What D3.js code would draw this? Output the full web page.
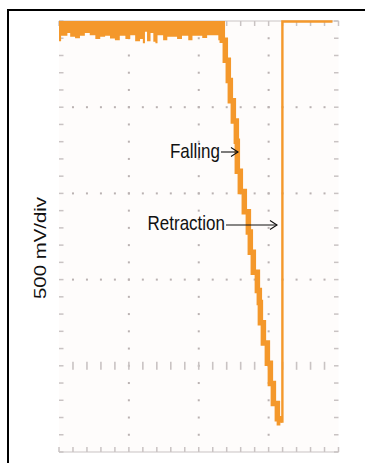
<!DOCTYPE html>
<html>
<head>
<meta charset="utf-8">
<script src="https://cdn.jsdelivr.net/npm/d3@7"></script>
<style>
  html, body { margin: 0; padding: 0; background: #ffffff; }
  svg { display: block; }
  text { font-family: "Liberation Sans", Arial, sans-serif; fill: #111; }
</style>
</head>
<body>
<svg id="scope" width="365" height="463"></svg>
<script>
// Time axis in divisions, voltage in volts (500 mV/div)
const timeDivs = [0, 1, 2, 3, 4];
const voltDivs = [-0.5, 0, 0.5, 1.0, 1.5, 2.0];
const yLabel = "500 mV/div";

// Saturated, noisy segment before the fall: lower edge of the noise band
const noiseTime = [0.00, 0.03, 0.12, 0.16, 0.23, 0.30, 0.37, 0.44, 0.52, 0.59, 0.66, 0.73, 0.80, 0.87, 0.95, 1.02, 1.09, 1.16, 1.20, 1.23, 1.26, 1.31, 1.35, 1.38, 1.41, 1.49, 1.55, 1.69, 1.76, 1.85, 1.91, 2.05, 2.12, 2.28, 2.34];
const noiseLow  = [1.883, 1.914, 1.930, 1.908, 1.900, 1.914, 1.930, 1.918, 1.895, 1.908, 1.914, 1.899, 1.889, 1.914, 1.895, 1.918, 1.883, 1.895, 1.871, 1.937, 1.883, 1.930, 1.879, 1.871, 1.918, 1.889, 1.908, 1.895, 1.914, 1.889, 1.914, 1.902, 1.918, 1.889, 1.889];

// Falling edge (staircase from the digitiser)
const fallTime = [2.337, 2.380, 2.423, 2.452, 2.495, 2.538, 2.552, 2.595, 2.652, 2.710, 2.738, 2.781, 2.839, 2.867, 2.882, 2.925, 2.982, 3.025, 3.068, 3.125, 3.154, 3.168];
const fallVolt = [2.000, 1.889, 1.772, 1.655, 1.537, 1.420, 1.303, 1.128, 1.011, 0.893, 0.776, 0.659, 0.542, 0.437, 0.367, 0.249, 0.132, 0.015, -0.102, -0.219, -0.307, -0.330];

// Retraction: sharp return to the top rail, then flat
const retractTime = [3.197, 3.197, 3.914];
const retractVolt = [-0.330, 1.997, 1.997];

const svg = d3.select("#scope");
const x = d3.scaleLinear().domain([0, 4]).range([59, 338.5]);
const y = d3.scaleLinear().domain([-0.5, 2.0]).range([452, 21]);

const gridCol = "#c9c3c3";
const dotCol = "#bab2b2";
const trace = "#f4982b";

svg.append("rect").attr("width", 365).attr("height", 463).attr("fill", "#ffffff");
svg.append("rect")
  .attr("x", x(0)).attr("y", y(2.0))
  .attr("width", x(4) - x(0)).attr("height", y(-0.5) - y(2.0))
  .attr("fill", "#fefcfb");

const grid = svg.append("g");
const minorT = d3.range(0, 4.0001, 0.2);
const minorV = d3.range(-0.5, 2.0001, 0.1);

// top and bottom rails with inward ticks
[[2.0, 1], [-0.5, -1]].forEach(([v, dir]) => {
  grid.append("line")
    .attr("x1", x(0)).attr("x2", x(4)).attr("y1", y(v)).attr("y2", y(v))
    .attr("stroke", gridCol).attr("stroke-width", 1);
  grid.selectAll(null).data(minorT).join("line")
    .attr("x1", d => x(d)).attr("x2", d => x(d))
    .attr("y1", y(v)).attr("y2", y(v) + dir * 5)
    .attr("stroke", gridCol).attr("stroke-width", 1.5);
});

// left and right edge ticks
[[0, 1], [4, -1]].forEach(([t, dir]) => {
  grid.selectAll(null).data(minorV).join("line")
    .attr("x1", x(t)).attr("x2", x(t) + dir * 4.5)
    .attr("y1", d => y(d)).attr("y2", d => y(d))
    .attr("stroke", gridCol).attr("stroke-width", 1.5);
});

// dotted interior verticals
timeDivs.filter(t => t > 0 && t < 4).forEach(t => {
  grid.selectAll(null).data(minorV.filter(v => v > -0.45 && v < 1.95)).join("rect")
    .attr("x", x(t) - 1).attr("y", d => y(d) - 1)
    .attr("width", 2).attr("height", 2).attr("fill", dotCol);
});

// dotted interior horizontals
voltDivs.filter(v => v > -0.5 && v < 2.0 && v !== 0).forEach(v => {
  grid.selectAll(null).data(minorT.filter(t => t > 0.1 && t < 3.9)).join("rect")
    .attr("x", d => x(d) - 1).attr("y", y(v) - 1)
    .attr("width", 2).attr("height", 2).attr("fill", dotCol);
});

// centre axis: tick marks across the line
grid.selectAll(null).data(minorT.filter(t => t > 0.1 && t < 3.9)).join("line")
  .attr("x1", d => x(d)).attr("x2", d => x(d))
  .attr("y1", y(0) - 4).attr("y2", y(0) + 4)
  .attr("stroke", gridCol).attr("stroke-width", 1.6);

// trace
const band = noiseTime.map((t, i) => ({ t, lo: noiseLow[i] }));
svg.append("path")
  .datum(band)
  .attr("fill", trace)
  .attr("d", d3.area().curve(d3.curveStepAfter)
    .x(d => x(d.t)).y0(d => y(d.lo)).y1(y(2.0)));

const fall = fallTime.map((t, i) => ({ t, v: fallVolt[i] }));
svg.append("path")
  .datum(fall)
  .attr("fill", "none").attr("stroke", trace).attr("stroke-width", 5.5)
  .attr("stroke-linejoin", "miter")
  .attr("d", d3.line().curve(d3.curveStepBefore).x(d => x(d.t)).y(d => y(d.v)));

const retract = retractTime.map((t, i) => ({ t, v: retractVolt[i] }));
svg.append("path")
  .datum(retract)
  .attr("fill", "none").attr("stroke", trace).attr("stroke-width", 2.4)
  .attr("d", d3.line().x(d => x(d.t)).y(d => y(d.v)));

// annotations
function label(txt, px, py, anchor) {
  svg.append("text")
    .attr("transform", `translate(${px},${py}) scale(1,1.2)`)
    .attr("text-anchor", anchor)
    .attr("font-size", 17)
    .text(txt);
}
function arrow(x1, x2, yy) {
  const g = svg.append("g").attr("stroke", "#111").attr("stroke-width", 1.1).attr("fill", "none");
  g.append("line").attr("x1", x1).attr("x2", x2).attr("y1", yy).attr("y2", yy);
  g.append("path").attr("d", `M${x2 - 7},${yy - 4.5} L${x2},${yy} L${x2 - 7},${yy + 4.5}`);
}
label("Falling", 220, 158, "end");
arrow(221, 238, 152);
label("Retraction", 225, 230, "end");
arrow(226, 277, 225);

svg.append("text")
  .attr("transform", `translate(45.5,248) scale(1.0,1.2) rotate(-90)`)
  .attr("text-anchor", "middle")
  .attr("font-size", 17)
  .text(yLabel);

// outer frame
svg.append("rect")
  .attr("x", 8).attr("y", 10).attr("width", 420).attr("height", 520)
  .attr("fill", "none").attr("stroke", "#000").attr("stroke-width", 2);
</script>
</body>
</html>
